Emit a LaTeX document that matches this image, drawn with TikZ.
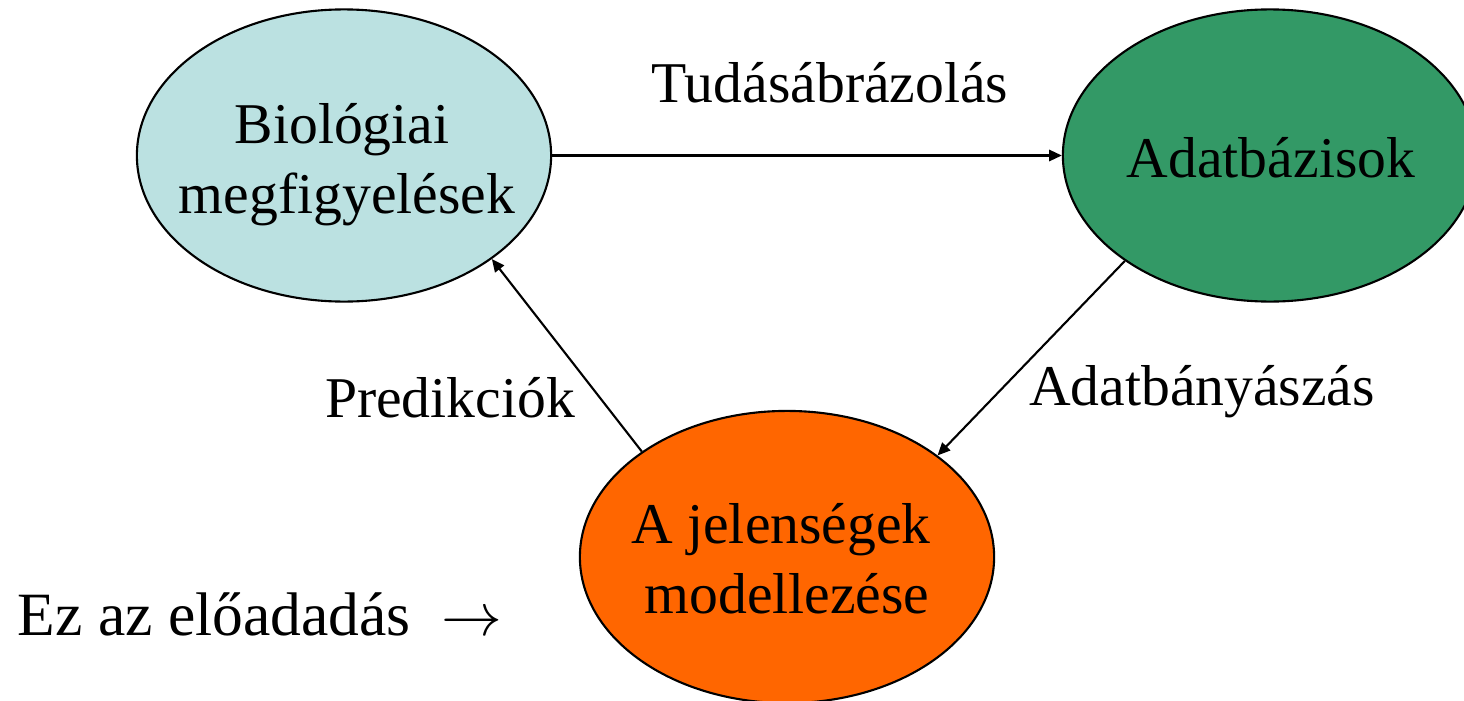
\documentclass[tikz,border=0pt]{standalone}
\usepackage{fontspec}
\setmainfont{Liberation Serif}
\usetikzlibrary{shapes.geometric,arrows.meta}

\definecolor{bioblue}{HTML}{BBE1E1}
\definecolor{dbgreen}{HTML}{339966}
\definecolor{modelorange}{HTML}{FF6600}

\begin{document}
\begin{tikzpicture}[x=0.01cm,y=-0.01cm,
  blob/.style={ellipse,draw=black,line width=0.6pt,inner sep=0pt,
               minimum width=4.14cm,minimum height=2.92cm},
  txt/.style={anchor=base,inner sep=0pt,font=\fontsize{16.4pt}{20pt}\selectfont},
  link/.style={line width=0.6pt,-{Triangle[length=3.6pt,width=3.2pt]}}]
  \clip (0,0) rectangle (1464,700);

  % the three ellipses
  \node[blob,fill=bioblue]     (bio)   at (344,155.5)  {};
  \node[blob,fill=dbgreen]     (db)    at (1270,155.5) {};
  \node[blob,fill=modelorange] (model) at (787,557)    {};

  % texts inside the ellipses
  \node[txt] (bio1)   at (342,143)  {Biológiai};
  \node[txt] (bio2)   at (347,213)  {megfigyelések};
  \node[txt] (db1)    at (1271,177) {Adatbázisok};
  \node[txt] (model1) at (781,543)  {A jelenségek};
  \node[txt] (model2) at (787,613)  {modellezése};

  % cycle of arrows
  \draw[link] (bio.east) -- (db.west);
  \draw[link] (db.216) -- (model.34.6);
  \draw[link] (model.144.5) -- (bio.-35.4);

  % arrow labels
  \node[txt] (lknow) at (830,102)  {Tudásábrázolás};
  \node[txt] (lmine) at (1202,405) {Adatbányászás};
  \node[txt] (lpred) at (450,417)  {Predikciók};

  % note on the lecture
  \node[txt,anchor=base west,font=\fontsize{17.5pt}{21pt}\selectfont] (note) at (17,635)
    {Ez az előadadás\hspace{0.5em}$\rightarrow$};
\end{tikzpicture}
\end{document}
